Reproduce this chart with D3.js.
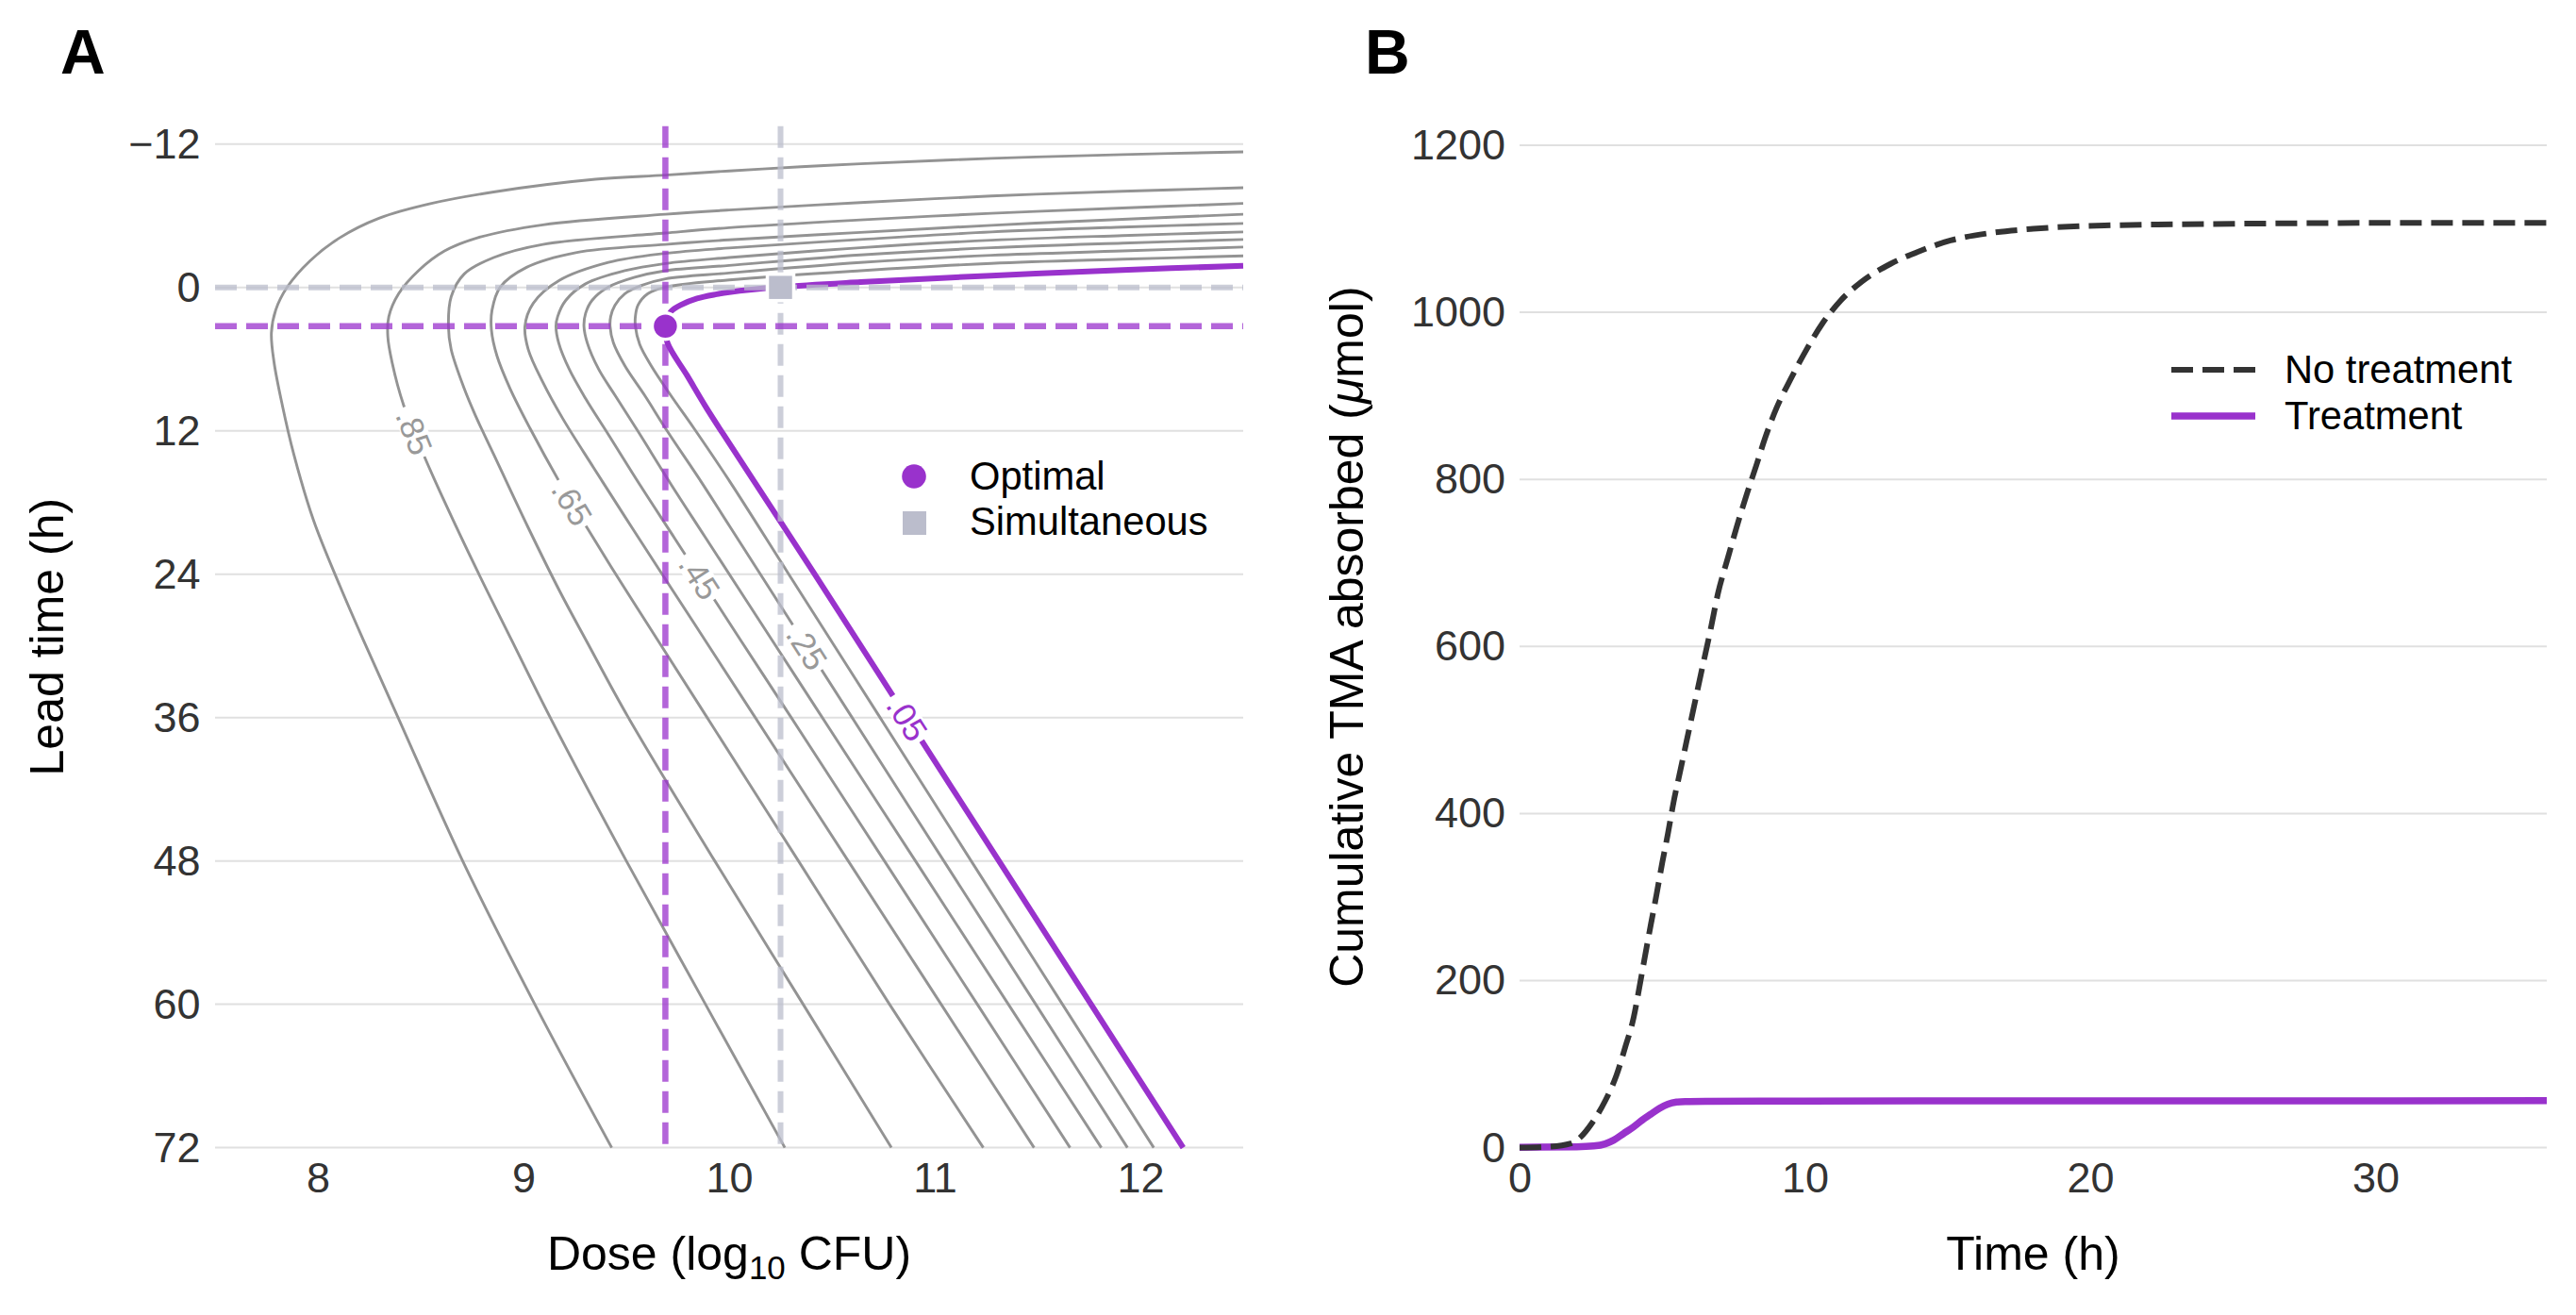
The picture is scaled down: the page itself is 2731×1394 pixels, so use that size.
<!DOCTYPE html>
<html>
<head>
<meta charset="utf-8">
<script src="https://cdn.jsdelivr.net/npm/d3@7"></script>
<style>
  body { margin: 0; background: #fff; }
  text { font-family: "Liberation Sans", Arial, Helvetica, sans-serif; }
</style>
</head>
<body>
<div id="chart"></div>
<script>
// tick values
var leadTicks = [-12, 0, 12, 24, 36, 48, 60, 72];
var doseTicks = [8, 9, 10, 11, 12];
var timeTicks = [0, 10, 20, 30];
var tmaTicks = [0, 200, 400, 600, 800, 1000, 1200];

// contour lines, [dose (log10 CFU), lead time (h)]
var contour95 = [[12.5, -11.34], [11.913, -11.12], [11.275, -10.8], [10.638, -10.35], [10.35, -10.1], [10.0, -9.75], [9.69, -9.4], [9.35, -9.05], [8.855, -7.99], [8.552, -7.03], [8.297, -5.79], [8.106, -4.15], [7.962, -2.23], [7.851, -0.03], [7.795, 1.89], [7.774, 3.81], [7.787, 6.28], [7.827, 9.85], [7.883, 13.97], [7.978, 19.45], [8.106, 24.94], [8.222, 29.55], [8.39, 36], [8.704, 48], [9.055, 60], [9.429, 72]];
var contour85 = [[12.5, -8.34], [11.913, -8.05], [11.275, -7.65], [10.638, -7.1], [10.0, -6.48], [9.69, -6.12], [9.094, -5.24], [8.776, -4.15], [8.616, -3.05], [8.489, -1.4], [8.393, 0.52], [8.345, 2.44], [8.34, 4.09], [8.361, 6.28], [8.417, 9.85], [8.52, 14.24], [8.62, 18.08], [8.771, 23.57], [8.943, 29.55], [9.13, 36], [9.5, 48], [9.885, 60], [10.271, 72]];
var contour75 = [[12.5, -7.03], [11.913, -6.65], [11.275, -6.2], [10.638, -5.65], [10.0, -5.0], [9.69, -4.55], [9.094, -3.6], [8.855, -2.5], [8.712, -1.13], [8.648, 0.79], [8.635, 3.26], [8.648, 5.18], [8.712, 8.48], [8.765, 10.67], [8.855, 13.97], [9.02, 20.0], [9.178, 25.49], [9.305, 29.55], [9.51, 36], [9.93, 48], [10.36, 60], [10.789, 72]];
var contour65 = [[12.5, -6.12], [11.913, -5.7], [11.275, -5.2], [10.638, -4.6], [10.0, -3.98], [9.69, -3.6], [9.254, -2.91], [9.015, -1.68], [8.887, -0.03], [8.847, 1.89], [8.844, 3.54], [8.871, 5.73], [8.935, 8.48], [9.031, 11.77], [9.171, 16.16], [9.315, 20.28], [9.483, 24.94], [9.654, 29.55], [9.893, 36], [10.337, 48], [10.78, 60], [11.236, 72]];
var contour55 = [[12.5, -5.35], [11.913, -5.05], [11.275, -4.64], [10.638, -4.01], [10.0, -3.3], [9.69, -2.85], [9.413, -2.09], [9.174, -0.58], [9.047, 1.34], [9.007, 3.26], [9.023, 5.18], [9.094, 7.93], [9.19, 10.95], [9.34, 15.06], [9.493, 19.18], [9.658, 23.57], [9.884, 29.55], [10.127, 36], [10.579, 48], [11.031, 60], [11.483, 72]];
var contour45 = [[12.5, -4.64], [11.913, -4.34], [11.275, -3.95], [10.638, -3.32], [10.0, -2.5], [9.69, -2.0], [9.493, -1.4], [9.302, -0.3], [9.206, 1.07], [9.166, 2.44], [9.158, 3.24], [9.171, 4.63], [9.222, 6.83], [9.302, 9.3], [9.413, 12.32], [9.573, 16.71], [9.739, 21.1], [10.057, 29.55], [10.302, 36], [10.755, 48], [11.207, 60], [11.658, 72]];
var contour35 = [[12.5, -4.01], [11.913, -3.71], [11.275, -3.32], [10.638, -2.72], [10.0, -1.84], [9.69, -1.4], [9.541, -0.85], [9.413, -0.03], [9.334, 1.07], [9.302, 2.17], [9.294, 3.24], [9.31, 4.63], [9.365, 6.83], [9.445, 9.03], [9.557, 12.05], [9.716, 16.44], [9.881, 20.83], [10.21, 29.55], [10.453, 36], [10.906, 48], [11.358, 60], [11.81, 72]];
var contour25 = [[12.5, -3.38], [11.913, -3.05], [11.275, -2.69], [10.638, -2.09], [10.0, -1.21], [9.69, -0.72], [9.573, -0.17], [9.493, 0.52], [9.445, 1.48], [9.424, 2.44], [9.421, 3.24], [9.437, 4.63], [9.493, 6.56], [9.589, 9.03], [9.7, 12.05], [9.86, 16.16], [10.003, 20.0], [10.598, 36], [11.044, 48], [11.491, 60], [11.937, 72]];
var contour15 = [[12.5, -2.64], [11.913, -2.36], [11.275, -2.01], [10.638, -1.4], [10.0, -0.63], [9.69, -0.03], [9.605, 0.52], [9.557, 1.48], [9.544, 2.44], [9.544, 3.24], [9.565, 4.77], [9.621, 6.56], [9.716, 9.03], [9.828, 11.77], [10.0, 16.16], [10.29, 24], [10.734, 36], [11.177, 48], [11.621, 60], [12.065, 72]];
var contour05 = [[12.5, -1.81], [11.913, -1.46], [11.275, -0.99], [10.638, -0.44], [10.25, -0.03], [10.0, 0.4], [9.94, 0.57], [9.844, 0.93], [9.764, 1.48], [9.716, 2.03], [9.695, 2.7], [9.69, 3.24], [9.7, 4.63], [9.796, 7.38], [9.891, 10.12], [9.973, 12.32], [10.416, 24], [10.864, 36], [11.312, 48], [11.76, 60], [12.208, 72]];

var contourLevels = [0.95, 0.85, 0.75, 0.65, 0.55, 0.45, 0.35, 0.25, 0.15, 0.05];
var contourLines = [contour95, contour85, contour75, contour65, contour55, contour45, contour35, contour25, contour15, contour05];

// contour labels
var labelLevels = [0.85, 0.65, 0.45, 0.25, 0.05];
var labelText = [".85", ".65", ".45", ".25", ".05"];
var labelDose = [8.457, 9.233, 9.86, 10.376, 10.865];
var labelLead = [12.18, 18.08, 24.2, 30.16, 36.08];

// optimal and simultaneous dosing
var optimalDose = 9.69;
var optimalLead = 3.24;
var simultaneousDose = 10.25;
var simultaneousLead = 0;

// cumulative TMA absorbed
var timeNoTreat = [0, 1, 1.8, 2.15, 2.55, 3.0, 3.4, 3.7, 4.0, 4.2, 4.4, 4.6, 4.8, 5.0, 5.2, 5.4, 5.6, 5.85, 6.1, 6.35, 6.7, 6.95, 7.3, 7.6, 7.95, 8.3, 8.6, 9.0, 9.5, 10.0, 10.6, 11.25, 12.0, 13.0, 14.0, 15.1, 16.5, 18, 20.5, 25, 30, 36];
var tmaNoTreat = [0, 1, 5, 13, 30, 56, 87, 120, 156, 192, 230, 267, 303, 341, 376, 414, 446, 486, 526, 566, 621, 663, 706, 742, 781, 817, 849, 885, 920, 952, 986, 1014, 1037, 1058, 1073, 1086, 1095, 1100, 1104, 1106, 1107, 1107];
var timeTreat = [0, 2.0, 2.6, 3.0, 3.3, 3.65, 4.0, 4.3, 4.6, 4.9, 5.2, 5.5, 5.8, 6.5, 10, 20, 36];
var tmaTreat = [0.5, 1, 2, 4.5, 9, 17, 25, 33, 40, 47, 52, 54.5, 55.2, 55.5, 55.8, 56, 56.2];

var purple = "#9932CC";
var simGrey = "#BBBDCC";
var contourGrey = "#939393";
var gridColor = "#e0e0e0";
var tickColor = "#333333";

var svg = d3.select("#chart")
  .append("svg")
  .attr("width", 2731)
  .attr("height", 1394);

// ---------- panel A ----------
var xA = d3.scaleLinear().domain([7.5, 12.5]).range([228, 1318]);
var yA = d3.scaleLinear().domain([-12, 72]).range([152.7, 1216.6]);

var panelA = svg.append("g");

panelA.selectAll(".gridA")
  .data(leadTicks)
  .enter()
  .append("line")
  .attr("x1", xA(7.5))
  .attr("x2", xA(12.5))
  .attr("y1", d => yA(d))
  .attr("y2", d => yA(d))
  .attr("stroke", gridColor)
  .attr("stroke-width", 2);

var leftAxisA = d3.axisLeft(yA).tickValues(leadTicks).tickSize(0).tickPadding(15.5).tickFormat(d3.format("d"));
var bottomAxisA = d3.axisBottom(xA).tickValues(doseTicks).tickSize(0).tickPadding(15).tickFormat(d3.format("d"));

panelA.append("g")
  .attr("transform", `translate(${xA(7.5)}, 0)`)
  .call(leftAxisA)
  .attr("font-size", 45)
  .attr("color", tickColor)
  .call(g => g.select(".domain").remove());

panelA.append("g")
  .attr("transform", `translate(0, ${yA(72)})`)
  .call(bottomAxisA)
  .attr("font-size", 45)
  .attr("color", tickColor)
  .call(g => g.select(".domain").remove());

// contours
var contourLine = d3.line()
  .x(d => xA(d[0]))
  .y(d => yA(d[1]))
  .curve(d3.curveCatmullRom.alpha(0.5));

panelA.selectAll(".contour")
  .data(contourLines)
  .enter()
  .append("path")
  .attr("d", contourLine)
  .attr("fill", "none")
  .attr("stroke", (d, i) => contourLevels[i] === 0.05 ? purple : contourGrey)
  .attr("stroke-width", (d, i) => contourLevels[i] === 0.05 ? 6 : 2.9)
  .attr("stroke-linejoin", "round");

// labels sit on the nearest segment of their contour
function placeOnLine(pts, px, py) {
  var best = null;
  for (var i = 0; i < pts.length - 1; i++) {
    var ax = pts[i][0], ay = pts[i][1], bx = pts[i + 1][0], by = pts[i + 1][1];
    var dx = bx - ax, dy = by - ay;
    var t = ((px - ax) * dx + (py - ay) * dy) / (dx * dx + dy * dy);
    t = Math.max(0, Math.min(1, t));
    var qx = ax + t * dx, qy = ay + t * dy;
    var dist = Math.hypot(px - qx, py - qy);
    if (!best || dist < best.dist) {
      best = { x: qx, y: qy, dist: dist, angle: Math.atan2(dy, dx) * 180 / Math.PI };
    }
  }
  return best;
}

labelText.forEach(function(txt, i) {
  var k = contourLevels.indexOf(labelLevels[i]);
  var pts = contourLines[k].map(d => [xA(d[0]), yA(d[1])]);
  var pos = placeOnLine(pts, xA(labelDose[i]), yA(labelLead[i]));
  var g = panelA.append("g")
    .attr("transform", `translate(${pos.x}, ${pos.y}) rotate(${pos.angle})`);
  var rect = g.append("rect").attr("fill", "#fff");
  var t = g.append("text")
    .attr("text-anchor", "middle")
    .attr("dominant-baseline", "central")
    .attr("font-size", 35)
    .attr("fill", labelLevels[i] === 0.05 ? purple : "#999999")
    .text(txt);
  var w = t.node().getComputedTextLength() + 8;
  rect.attr("x", -w / 2).attr("y", -14).attr("width", w).attr("height", 28);
});

// reference lines
panelA.append("line")
  .attr("x1", xA(7.5)).attr("x2", xA(12.5))
  .attr("y1", yA(simultaneousLead)).attr("y2", yA(simultaneousLead))
  .attr("stroke", simGrey).attr("stroke-opacity", 0.75)
  .attr("stroke-width", 6).attr("stroke-dasharray", "23 10");

panelA.append("line")
  .attr("x1", xA(simultaneousDose)).attr("x2", xA(simultaneousDose))
  .attr("y1", yA(-13.5)).attr("y2", yA(72))
  .attr("stroke", simGrey).attr("stroke-opacity", 0.75)
  .attr("stroke-width", 6).attr("stroke-dasharray", "23 10");

panelA.append("line")
  .attr("x1", xA(7.5)).attr("x2", xA(12.5))
  .attr("y1", yA(optimalLead)).attr("y2", yA(optimalLead))
  .attr("stroke", purple).attr("stroke-opacity", 0.75)
  .attr("stroke-width", 6.5).attr("stroke-dasharray", "23 10");

panelA.append("line")
  .attr("x1", xA(optimalDose)).attr("x2", xA(optimalDose))
  .attr("y1", yA(-13.5)).attr("y2", yA(72))
  .attr("stroke", purple).attr("stroke-opacity", 0.75)
  .attr("stroke-width", 6.5).attr("stroke-dasharray", "23 10");

// points
panelA.append("rect")
  .attr("x", xA(simultaneousDose) - 14)
  .attr("y", yA(simultaneousLead) - 14)
  .attr("width", 28)
  .attr("height", 28)
  .attr("fill", simGrey)
  .attr("stroke", "#fff")
  .attr("stroke-width", 3.5);

panelA.append("circle")
  .attr("cx", xA(optimalDose))
  .attr("cy", yA(optimalLead))
  .attr("r", 14)
  .attr("fill", purple)
  .attr("stroke", "#fff")
  .attr("stroke-width", 3.5);

// legend A
panelA.append("circle").attr("cx", 969).attr("cy", 505).attr("r", 12.8).attr("fill", purple);
panelA.append("rect").attr("x", 957).attr("y", 542).attr("width", 25).attr("height", 25).attr("fill", simGrey);
panelA.append("text").attr("x", 1028).attr("y", 519).attr("font-size", 41.7).text("Optimal");
panelA.append("text").attr("x", 1028).attr("y", 567).attr("font-size", 41.7).text("Simultaneous");

// axis titles A
panelA.append("text")
  .attr("x", (xA(7.5) + xA(12.5)) / 2)
  .attr("y", 1346)
  .attr("text-anchor", "middle")
  .attr("font-size", 50)
  .call(function(t) {
    t.append("tspan").text("Dose (log");
    t.append("tspan").attr("font-size", 35).attr("dy", 10).text("10");
    t.append("tspan").attr("dy", -10).text(" CFU)");
  });

panelA.append("text")
  .attr("transform", `translate(67, ${(yA(-13.5) + yA(72)) / 2}) rotate(-90)`)
  .attr("text-anchor", "middle")
  .attr("font-size", 50)
  .text("Lead time (h)");

svg.append("text")
  .attr("x", 64).attr("y", 78)
  .attr("font-size", 66).attr("font-weight", "bold")
  .text("A");

// ---------- panel B ----------
var xB = d3.scaleLinear().domain([0, 36]).range([1611, 2700]);
var yB = d3.scaleLinear().domain([0, 1200]).range([1216.6, 154]);

var panelB = svg.append("g");

panelB.selectAll(".gridB")
  .data(tmaTicks)
  .enter()
  .append("line")
  .attr("x1", xB(0))
  .attr("x2", xB(36))
  .attr("y1", d => yB(d))
  .attr("y2", d => yB(d))
  .attr("stroke", gridColor)
  .attr("stroke-width", 2);

var leftAxisB = d3.axisLeft(yB).tickValues(tmaTicks).tickSize(0).tickPadding(15).tickFormat(d3.format("d"));
var bottomAxisB = d3.axisBottom(xB).tickValues(timeTicks).tickSize(0).tickPadding(15).tickFormat(d3.format("d"));

panelB.append("g")
  .attr("transform", `translate(${xB(0)}, 0)`)
  .call(leftAxisB)
  .attr("font-size", 45)
  .attr("color", tickColor)
  .call(g => g.select(".domain").remove());

panelB.append("g")
  .attr("transform", `translate(0, ${yB(0)})`)
  .call(bottomAxisB)
  .attr("font-size", 45)
  .attr("color", tickColor)
  .call(g => g.select(".domain").remove());

var tmaLine = d3.line()
  .x(d => xB(d[0]))
  .y(d => yB(d[1]))
  .curve(d3.curveMonotoneX);

panelB.append("path")
  .datum(timeTreat.map((t, i) => [t, tmaTreat[i]]))
  .attr("d", tmaLine)
  .attr("fill", "none")
  .attr("stroke", purple)
  .attr("stroke-width", 7.5);

panelB.append("path")
  .datum(timeNoTreat.map((t, i) => [t, tmaNoTreat[i]]))
  .attr("d", tmaLine)
  .attr("fill", "none")
  .attr("stroke", "#333333")
  .attr("stroke-width", 6)
  .attr("stroke-dasharray", "23 10");

// legend B
panelB.append("line").attr("x1", 2302).attr("x2", 2391).attr("y1", 392).attr("y2", 392)
  .attr("stroke", "#333333").attr("stroke-width", 6).attr("stroke-dasharray", "23 10");
panelB.append("line").attr("x1", 2302).attr("x2", 2391).attr("y1", 441).attr("y2", 441)
  .attr("stroke", purple).attr("stroke-width", 7.5);
panelB.append("text").attr("x", 2422).attr("y", 406).attr("font-size", 41.7).text("No treatment");
panelB.append("text").attr("x", 2422).attr("y", 455).attr("font-size", 41.7).text("Treatment");

// axis titles B
panelB.append("text")
  .attr("x", (xB(0) + xB(36)) / 2)
  .attr("y", 1346)
  .attr("text-anchor", "middle")
  .attr("font-size", 50)
  .text("Time (h)");

panelB.append("text")
  .attr("transform", `translate(1445, ${(yA(-13.5) + yA(72)) / 2}) rotate(-90)`)
  .attr("text-anchor", "middle")
  .attr("font-size", 50)
  .call(function(t) {
    t.append("tspan").text("Cumulative TMA absorbed (");
    t.append("tspan").attr("font-style", "italic").text("\u03bc");
    t.append("tspan").text("mol)");
  });

svg.append("text")
  .attr("x", 1447).attr("y", 78)
  .attr("font-size", 66).attr("font-weight", "bold")
  .text("B");
</script>
</body>
</html>
